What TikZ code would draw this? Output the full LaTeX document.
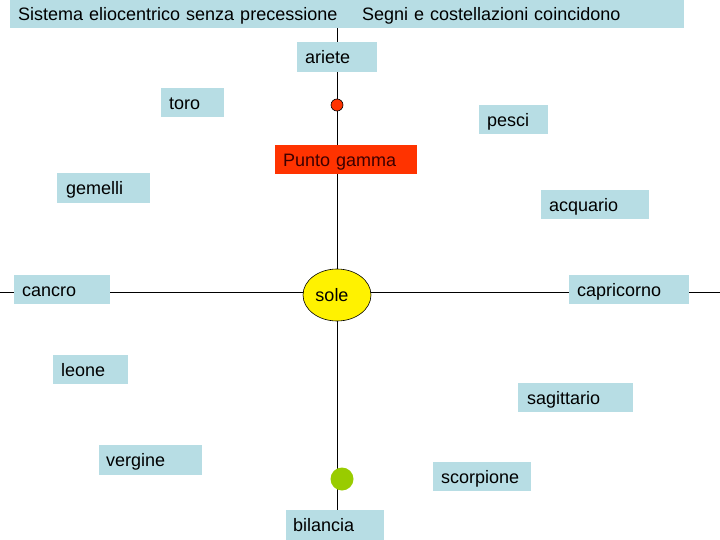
\documentclass[tikz,border=0pt]{standalone}
\usepackage{fontspec}
\setmainfont{Liberation Sans}
\usetikzlibrary{shapes.geometric}
\definecolor{boxblue}{RGB}{183,221,228}
\definecolor{gammared}{RGB}{255,51,0}
\definecolor{gammatext}{RGB}{60,0,0}
\definecolor{dotgreen}{RGB}{153,204,0}
\begin{document}
\begin{tikzpicture}[x=1pt,y=-1pt,
  every node/.style={font=\fontsize{18pt}{20pt}\selectfont},
  box/.style={fill=boxblue, anchor=north west, inner xsep=8pt, inner ysep=0pt,
    minimum height=29pt, align=left, text height=15pt, text depth=2pt},
  axis/.style={draw=black, line width=0.9pt}]
\useasboundingbox (0,0) rectangle (720,540);
\coordinate (top) at (337,28);
\coordinate (bottom) at (337,540);
\coordinate (left) at (0,292);
\coordinate (right) at (720,292);
\draw[axis] (top) -- (bottom);
\draw[axis] (left) -- (right);
% top bar
\node[box, minimum height=28pt, text width=321pt] (sistema) at (10,0) {Sistema eliocentrico senza precessione};
\node[box, minimum height=28pt, inner xsep=15pt, text width=307pt] (segni) at (347,0) {Segni e costellazioni coincidono};
% signs
\node[box, minimum height=30pt, text width=64pt] (ariete) at (297,42) {ariete};
\node[box, text width=47pt] (toro) at (161,88) {toro};
\node[box, text width=53pt] (pesci) at (479,105) {pesci};
\node[box, fill=gammared, text=gammatext, text width=126pt] (gamma) at (275,145) {Punto gamma};
\node[box, minimum height=30pt, inner xsep=9pt, text width=75pt] (gemelli) at (57,173) {gemelli};
\node[box, text width=92pt] (acquario) at (541,190) {acquario};
\node[box, text width=80pt] (cancro) at (14,275) {cancro};
\node[box, text width=104pt] (capricorno) at (569,275) {capricorno};
\node[box, text width=59pt] (leone) at (53,355) {leone};
\node[box, inner xsep=9pt, text width=97pt] (sagittario) at (518,383) {sagittario};
\node[box, minimum height=30pt, inner xsep=7pt, text width=89pt] (vergine) at (99,445) {vergine};
\node[box, text width=82pt] (scorpione) at (433,462) {scorpione};
\node[box, minimum height=30pt, inner xsep=7pt, text width=84pt] (bilancia) at (286,510) {bilancia};
% sun and points
\node[ellipse, draw=black, line width=0.6pt, fill=yellow, minimum width=68pt, minimum height=52pt, inner sep=0pt] (sole) at (337,295) {\raisebox{-1pt}{\hspace*{-10pt}sole}};
\node[circle, draw=black, line width=0.6pt, fill=gammared, minimum size=12pt, inner sep=0pt] (reddot) at (337,105) {};
\node[circle, fill=dotgreen, minimum size=23pt, inner sep=0pt] (greendot) at (342,479) {};
\end{tikzpicture}
\end{document}
